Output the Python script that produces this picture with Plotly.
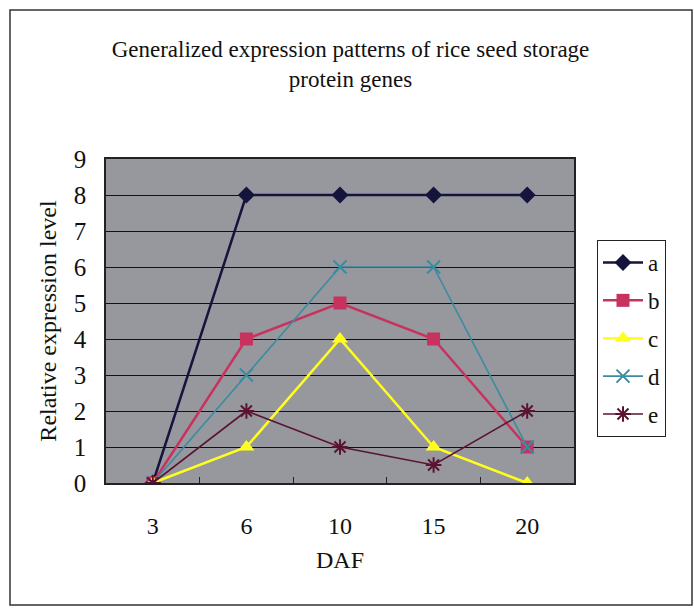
import plotly.graph_objects as go

# Days after flowering and relative expression level for each gene group
daf = ["3", "6", "10", "15", "20"]
series_names = ["a", "b", "c", "d", "e"]
a_vals = [0, 8, 8, 8, 8]
b_vals = [0, 4, 5, 4, 1]
c_vals = [0, 1, 4, 1, 0]
d_vals = [0, 3, 6, 6, 1]
e_vals = [0, 2, 1, 0.5, 2]

values = [a_vals, b_vals, c_vals, d_vals, e_vals]
colors = ["#14143c", "#c8325f", "#ffff1e", "#3a8ca0", "#5a1432"]
symbols = ["diamond", "square", "triangle-up", "x-thin-open", "asterisk-open"]
msizes = [13, 13, 14, 13, 13]
lwidths = [2.5, 2.5, 2.5, 1.6, 1.6]

FONT = "Liberation Serif, Times New Roman, serif"

fig = go.Figure()
for name, vals, col, sym, ms, lw in zip(series_names, values, colors, symbols, msizes, lwidths):
    fig.add_trace(go.Scatter(
        x=daf, y=vals, name=name, mode="lines+markers", legendgroup=name,
        line=dict(color=col, width=lw),
        marker=dict(symbol=sym, size=ms, color=col,
                    line=dict(color=col, width=2 if "open" in sym else 0)),
    ))

L, R, T, B = 106, 120, 159, 125
W, H = 694, 608
pw, ph = W - L - R, H - T - B

fig.update_layout(
    width=W, height=H,
    margin=dict(l=L, r=R, t=T, b=B),
    paper_bgcolor="white",
    plot_bgcolor="#97979e",
    font=dict(family=FONT, color="#111111", size=22),
    title=dict(
        text="Generalized expression patterns of rice seed storage<br>protein genes",
        x=0.505, xanchor="center", y=1 - 57 / H, yanchor="middle",
        font=dict(family=FONT, size=23, color="#111111"),
    ),
    xaxis=dict(
        type="category", showgrid=False, showline=True, mirror=True,
        linecolor="#222222", linewidth=1.5,
        ticks="inside", tickson="boundaries", ticklen=6, tickcolor="#222222",
        tickfont=dict(size=24), ticklabelstandoff=20,
        title=dict(text="DAF", font=dict(size=24), standoff=14),
        range=[-0.5, 4.5],
    ),
    yaxis=dict(
        range=[0, 9], dtick=1, showgrid=True, gridcolor="#111111", gridwidth=1.2,
        showline=True, mirror=True, linecolor="#222222", linewidth=1.5,
        ticks="", tickfont=dict(size=25), zeroline=False, ticklabelstandoff=13,
        title=dict(text="Relative expression level", font=dict(size=24), standoff=10),
    ),
    legend=dict(
        x=(597 - L) / pw, y=(H - B - 240) / ph, xanchor="left", yanchor="top",
        bgcolor="white", bordercolor="#222222", borderwidth=1,
        font=dict(size=23), tracegroupgap=5, itemwidth=40,
    ),
    showlegend=True,
)

# Outer chart frame
fig.add_shape(
    type="rect", xref="paper", yref="paper",
    x0=(10 - L) / pw, x1=(692 - L) / pw,
    y0=(H - B - 605) / ph, y1=(H - B - 10) / ph,
    line=dict(color="#333333", width=1.5), fillcolor="rgba(0,0,0,0)", layer="below",
)

fig.write_html("out.html")
